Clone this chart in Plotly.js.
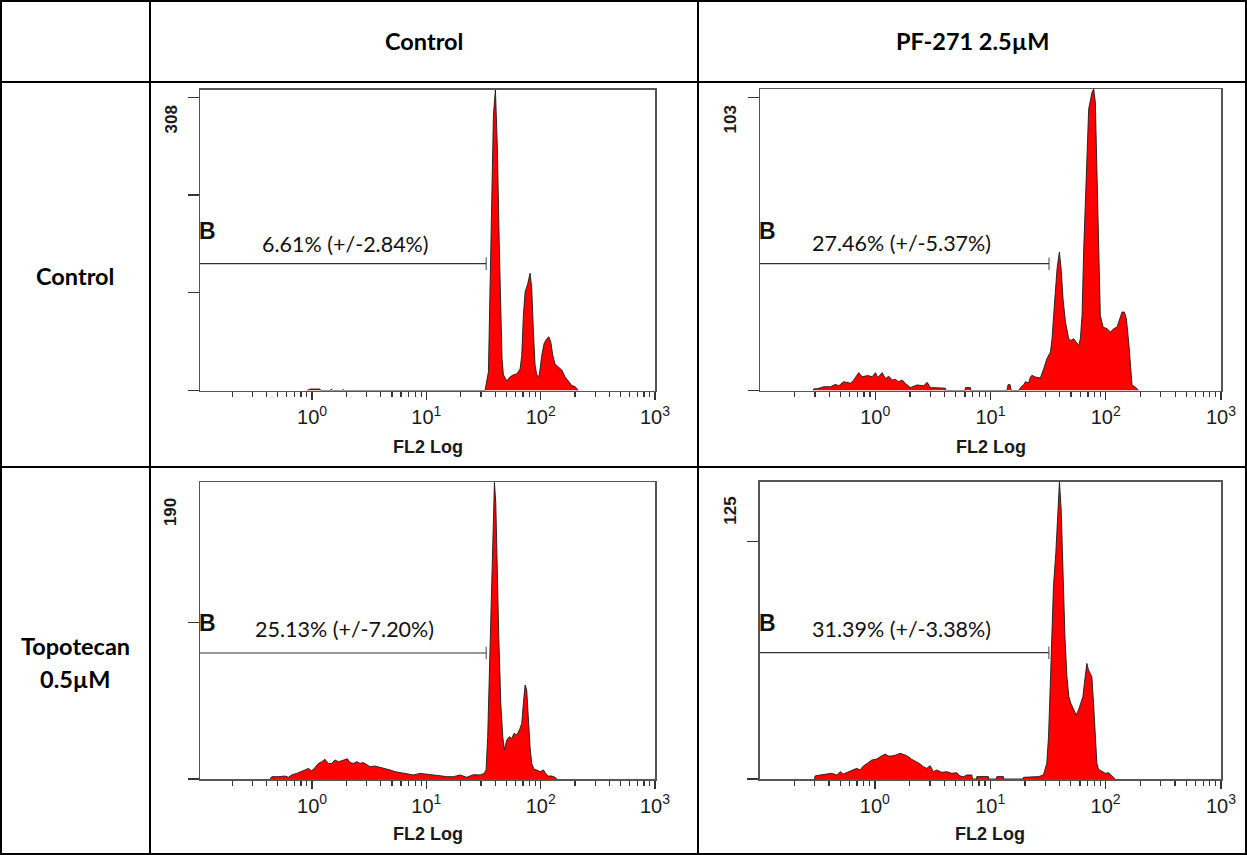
<!DOCTYPE html>
<html>
<head>
<meta charset="utf-8">
<script src="https://cdn.plot.ly/plotly-3.0.1.min.js"></script>
<style>
  html, body { margin: 0; padding: 0; background: #fff; }
  #chart { width: 1247px; height: 855px; }
</style>
</head>
<body>
<div id="chart"></div>
<script>
// ---- Table captions ----
const columnHeaders = ['Control', 'PF-271 2.5µM'];
const rowHeaders = [['Control'], ['Topotecan', '0.5µM']];

// ---- Shared axis labels ----
const xAxisTitle = 'FL2 Log';
const decadeValues = [1, 10, 100, 1000];
const decadeLabels = ['10<sup>0</sup>', '10<sup>1</sup>', '10<sup>2</sup>', '10<sup>3</sup>'];
const minorTickValues = [0.2, 0.3, 0.4, 0.5, 0.6, 0.7, 0.8, 0.9,
                         2, 3, 4, 5, 6, 7, 8, 9,
                         20, 30, 40, 50, 60, 70, 80, 90,
                         200, 300, 400, 500, 600, 700, 800, 900];

// ---- Panel: Control / Control ----
const fl2CtrlCtrl = [0.9, 0.97, 1.05, 1.17, 1.2, 1.45, 1.47, 1.52, 1.84, 1.87, 1.92,
  32.6, 34.9, 36.1, 37.3, 38.6, 40.2, 41.8, 43.5, 44.8, 45.9, 47.2, 50.5, 54.0, 57.7,
  61.8, 66.1, 68.3, 70.6, 73.1, 76.6, 80.8, 83.6, 86.4, 89.3, 92.4, 96.2, 98.8, 102.2,
  107.1, 113.0, 117.7, 122.5, 127.6, 133.6, 142.9, 153.0, 163.4, 174.8, 187.1, 200, 213.8];
const countCtrlCtrl = [0, 1.5, 1.5, 1.5, 0, 0, 1.5, 0, 0, 1, 0,
  0, 19, 111, 214, 282, 308, 248, 145, 77, 33, 16, 10, 14, 16,
  17, 22, 36, 77, 101, 108, 120, 104, 60, 26, 16, 14, 22, 36,
  48, 53, 55, 50, 36, 27, 24, 21, 14, 9, 5, 4, 0];

// ---- Panel: Control / PF-271 ----
const fl2CtrlPf = [0.29, 0.293, 0.313, 0.357, 0.409, 0.452, 0.482, 0.533, 0.609, 0.651,
  0.719, 0.769, 0.861, 0.94, 1.004, 1.052, 1.148, 1.225, 1.31, 1.401, 1.496, 1.599,
  1.711, 1.828, 2.02, 2.31, 2.63, 2.82, 3.01, 3.56, 4.06, 4.1, 6.0, 6.06, 6.69, 6.75,
  13.9, 14.2, 14.8, 15.1, 17.6, 18.2, 19.4, 20.1, 21.4, 22.2, 22.9, 24.5, 27.1, 28.9,
  30.9, 33.1, 34.2, 35.3, 36.5, 37.8, 39.6, 41.0, 42.6, 44.7, 47.7, 50.0, 52.7, 55.2,
  58.2, 60.2, 62.3, 64.4, 67.9, 71.1, 76.0, 78.6, 81.2, 84.0, 86.8, 89.7, 94.7, 102.6,
  109.6, 117.2, 125.3, 132.1, 138.5, 145.0, 151.0, 158.1, 163.6, 169.2, 180.7, 193.0];
const countCtrlPf = [0, 0.6, 0.6, 1.3, 1.3, 2.1, 1.6, 3.0, 2.5, 3.6,
  6.1, 4.7, 5.1, 4.7, 6.1, 4.4, 6.1, 4.1, 4.9, 3.6, 3.8, 3.0,
  3.6, 2.4, 1.0, 1.9, 1.6, 2.8, 1.0, 0.8, 0.8, 0, 0, 1, 1, 0,
  0, 2, 2, 0, 0, 1, 2, 3, 2.6, 4.6, 5.2, 4.6, 4.3, 7.4,
  10.9, 13.1, 17.7, 25.7, 34.8, 41.6, 47.3, 41.6, 31.3, 23.4, 17.7, 17.1, 17.7, 16.6,
  15.4, 17.7, 25.7, 48.4, 76.9, 96.2, 101.9, 103, 98.5, 76.9, 48.4, 25.7, 21.7, 21.1,
  20.0, 21.1, 21.7, 24.5, 26.8, 26.8, 24.5, 16.6, 7.4, 1.8, 1.2, 0];

// ---- Panel: Topotecan / Control ----
const fl2TopoCtrl = [0.43, 0.444, 0.507, 0.543, 0.581, 0.621, 0.664, 0.734, 0.812, 0.869,
  0.928, 0.993, 1.062, 1.136, 1.216, 1.299, 1.390, 1.486, 1.589, 1.699, 1.820, 1.944,
  2.037, 2.149, 2.299, 2.460, 2.630, 2.812, 3.010, 3.216, 3.556, 3.935, 4.351, 4.812,
  5.322, 5.886, 6.740, 7.695, 8.81, 10.08, 11.53, 13.18, 15.08, 17.25, 19.72, 22.55,
  25.78, 29.5, 31.98, 33.3, 34.4, 35.6, 36.8, 37.8, 38.6, 39.4, 40.5, 41.6, 43.0, 44.8,
  46.6, 48.2, 50.5, 53.2, 55.8, 58.5, 61.8, 65.2, 68.3, 70.6, 73.1, 75.5, 78.0, 80.7,
  83.5, 87.5, 92.4, 98.8, 105.6, 111.5, 116.8, 125.0, 133.6, 138.3];
const countTopoCtrl = [0, 1.5, 1.5, 1.9, 1.9, 1.1, 2.6, 3.6, 4.7, 5.8,
  6.8, 5.3, 7.3, 10.0, 11.1, 12.6, 10.0, 10.0, 12.2, 11.1, 11.7, 12.6,
  13.0, 10.5, 10.0, 11.1, 10.0, 10.5, 9.0, 7.9, 8.3, 7.5, 6.8, 5.8,
  4.7, 4.1, 3.2, 2.6, 3.6, 3.2, 2.8, 2.1, 1.5, 1.5, 2.6, 1.1,
  2.8, 2.6, 3.6, 5.8, 27.1, 69.8, 112.5, 144.5, 172.3, 190, 176.5, 133.8, 91.2, 48.5,
  27.1, 18.6, 25.0, 27.1, 26.0, 29.2, 28.2, 31.4, 35.6, 48.5, 60.2, 57.0, 37.8, 20.7,
  10.0, 6.2, 5.8, 4.7, 5.8, 3.2, 1.9, 1.9, 1.1, 0];

// ---- Panel: Topotecan / PF-271 ----
const fl2TopoPf = [0.30, 0.303, 0.335, 0.383, 0.423, 0.468, 0.499, 0.533, 0.589, 0.651,
  0.697, 0.744, 0.795, 0.861, 0.940, 1.024, 1.109, 1.225, 1.310, 1.401, 1.527, 1.654,
  1.828, 1.954, 2.089, 2.276, 2.466, 2.634, 2.816, 3.01, 3.217, 3.44, 3.80, 4.20, 4.65,
  5.13, 5.48, 5.86, 6.27, 6.93, 7.0, 7.6, 7.65, 9.64, 9.7, 11.3, 11.4, 13.0, 13.1,
  19.3, 19.4, 26.2, 28.9, 30.9, 32.0, 33.1, 34.2, 35.3, 37.0, 38.3, 39.8, 41.2, 42.6,
  44.4, 46.2, 48.0, 50.0, 52.7, 55.6, 58.2, 61.0, 63.5, 66.5, 68.8, 71.1, 73.5, 76.0,
  78.6, 81.2, 84.0, 86.8, 92.9, 99.3, 106.0, 113.4, 121.1];
const countTopoPf = [0, 1.26, 1.68, 1.96, 2.38, 1.68, 3.08, 2.1, 3.08, 3.78,
  4.48, 3.78, 5.47, 6.59, 7.99, 8.27, 9.39, 10.51, 9.67, 9.67, 10.09, 10.79,
  10.09, 9.39, 8.27, 7.29, 6.31, 5.19, 4.48, 5.61, 3.08, 3.78, 2.8, 3.08, 2.38,
  2.66, 1.26, 0.98, 1.68, 1.68, 0, 0, 1.0, 1.0, 0, 0, 1.0, 1.0, 0,
  0, 0.7, 1.0, 1.68, 6.59, 17.8, 38.8, 59.8, 80.9, 94.9, 108.9, 125, 113.1, 87.9,
  59.8, 43.0, 34.6, 31.8, 29.0, 26.9, 29.0, 31.8, 34.6, 43.0, 48.6, 45.8, 44.4, 43.0,
  31.8, 17.8, 6.59, 4.1, 3.08, 2.38, 2.66, 1.26, 0];

// ---- Marker B statistics ----
const gateLabels = ['6.61% (+/-2.84%)', '27.46% (+/-5.37%)', '25.13% (+/-7.20%)', '31.39% (+/-3.38%)'];
const yMaxValues = [308, 103, 190, 125];
const yTickValues = [[0, 100, 200, 300], [0, 100], [0, 100], [0, 100]];
const gateUpper = [33.4, 32.2, 33.4, 32.2];

// ---- Page geometry (pixels) ----
const W = 1247, H = 855;
const px = v => v / W;
const py = v => 1 - v / H;

const panels = [
  { fl2: fl2CtrlCtrl, count: countCtrlCtrl, box: { l: 200, r: 655, t: 89.5, b: 390.5 }, xr: [-0.98, 3], gateY: 263.7,
    bPos: [207.5, 231], pctPos: [345.7, 244.3], yLab: [171, 119.5], xTitle: [428, 447] },
  { fl2: fl2CtrlPf, count: countCtrlPf, box: { l: 760, r: 1221, t: 89, b: 390.5 }, xr: [-1, 3], gateY: 263.7,
    bPos: [767, 231], pctPos: [901, 242.5], yLab: [730, 119.5], xTitle: [990.5, 447] },
  { fl2: fl2TopoCtrl, count: countTopoCtrl, box: { l: 200, r: 655, t: 482.2, b: 779 }, xr: [-0.98, 3], gateY: 653,
    bPos: [207.5, 622.8], pctPos: [344.8, 629], yLab: [170.6, 512.5], xTitle: [428, 833.5] },
  { fl2: fl2TopoPf, count: countTopoPf, box: { l: 759.5, r: 1221, t: 481.7, b: 779 }, xr: [-1, 3], gateY: 652.7,
    bPos: [767, 622.5], pctPos: [901, 629], yLab: [729.7, 511], xTitle: [990.3, 833.5] }
];

const axisFont = 'Liberation Sans, Arial, sans-serif';
const textFont = 'Lato, Noto Sans, sans-serif';

const traces = [];
const layout = {
  width: W, height: H,
  margin: { l: 0, r: 0, t: 0, b: 0 },
  paper_bgcolor: '#ffffff', plot_bgcolor: '#ffffff',
  showlegend: false,
  shapes: [], annotations: []
};

const note = (text, x, y, font, extra) => Object.assign({
  text: text, x: px(x), y: py(y), xref: 'paper', yref: 'paper',
  showarrow: false, xanchor: 'center', yanchor: 'middle', font: font
}, extra || {});

panels.forEach((p, i) => {
  const n = i + 1;
  const xa = 'x' + n, ya = 'y' + n;
  const ymax = yMaxValues[i];

  // histogram: red filled area with a thin dark outline
  traces.push({
    type: 'scatter', mode: 'lines', x: p.fl2, y: p.count,
    xaxis: xa, yaxis: ya,
    fill: 'tozeroy', fillcolor: '#ff0000',
    line: { color: '#1a1a1a', width: 0.9 },
    hoverinfo: 'skip'
  });

  // marker B: horizontal gate bar with an end cap
  const gateLevel = (p.box.b - p.gateY) / (p.box.b - p.box.t) * ymax;
  traces.push({
    type: 'scatter', mode: 'lines+markers',
    x: [Math.pow(10, p.xr[0]), gateUpper[i]], y: [gateLevel, gateLevel],
    xaxis: xa, yaxis: ya,
    line: { color: '#333333', width: 1.2 },
    marker: { symbol: 'line-ns', size: [0, 9], color: '#333333', line: { color: '#333333', width: 1.3 } },
    hoverinfo: 'skip'
  });

  layout['xaxis' + n] = {
    type: 'log', range: p.xr, domain: [px(p.box.l), px(p.box.r)], anchor: ya,
    showgrid: false, zeroline: false, showline: true, mirror: true,
    linecolor: '#555555', linewidth: 1.5,
    ticks: 'outside', ticklen: 8, tickwidth: 1.3, tickcolor: '#333',
    tickmode: 'array', tickvals: decadeValues, ticktext: decadeLabels,
    tickfont: { family: axisFont, size: 20, color: '#1a1a1a' },
    minor: { tickmode: 'array', tickvals: minorTickValues, ticks: 'outside', ticklen: 5, tickwidth: 1.2, tickcolor: '#333', showgrid: false },
    fixedrange: true
  };
  layout['yaxis' + n] = {
    range: [0, ymax], domain: [py(p.box.b), py(p.box.t)], anchor: xa,
    showgrid: false, zeroline: false, showline: true, mirror: true,
    linecolor: '#555555', linewidth: 1.5,
    ticks: 'outside', ticklen: 11, tickwidth: 1.3, tickcolor: '#333',
    tickmode: 'array', tickvals: yTickValues[i], showticklabels: false,
    fixedrange: true
  };

  const ann = layout.annotations;
  ann.push(note('<b>B</b>', p.bPos[0], p.bPos[1], { family: axisFont, size: 23, color: '#111' }));
  ann.push(note(gateLabels[i], p.pctPos[0], p.pctPos[1], { family: textFont, size: 21.5, color: '#111' }));
  ann.push(note('<b>' + ymax + '</b>', p.yLab[0], p.yLab[1], { family: axisFont, size: 17, color: '#1a1a1a' }, { textangle: -90 }));
  ann.push(note('<b>' + xAxisTitle + '</b>', p.xTitle[0], p.xTitle[1], { family: axisFont, size: 18, color: '#1a1a1a' }));
});

// ---- Table grid ----
const gridLine = { color: '#000000', width: 2 };
const addLine = (x0, y0, x1, y1) => layout.shapes.push({
  type: 'line', xref: 'paper', yref: 'paper', x0: px(x0), y0: py(y0), x1: px(x1), y1: py(y1), line: gridLine, layer: 'above'
});
addLine(150, 0, 150, H);
addLine(698, 0, 698, H);
addLine(0, 82, W, 82);
addLine(0, 467, W, 467);
layout.shapes.push({ type: 'rect', xref: 'paper', yref: 'paper', x0: px(1), y0: py(854), x1: px(1246), y1: py(1),
  line: gridLine, fillcolor: 'rgba(0,0,0,0)', layer: 'above' });

// ---- Table captions ----
const headFont = { family: textFont, size: 23.5, color: '#000' };
const ann = layout.annotations;
ann.push(note('<b>' + columnHeaders[0] + '</b>', 424, 41, headFont));
ann.push(note('<b>' + columnHeaders[1] + '</b>', 972.5, 41, headFont));
ann.push(note('<b>' + rowHeaders[0][0] + '</b>', 75, 276, headFont));
ann.push(note('<b>' + rowHeaders[1][0] + '</b>', 75, 646, headFont));
ann.push(note('<b>' + rowHeaders[1][1] + '</b>', 75, 678.5, headFont));

Plotly.newPlot('chart', traces, layout, { staticPlot: true, displayModeBar: false });
</script>
</body>
</html>
